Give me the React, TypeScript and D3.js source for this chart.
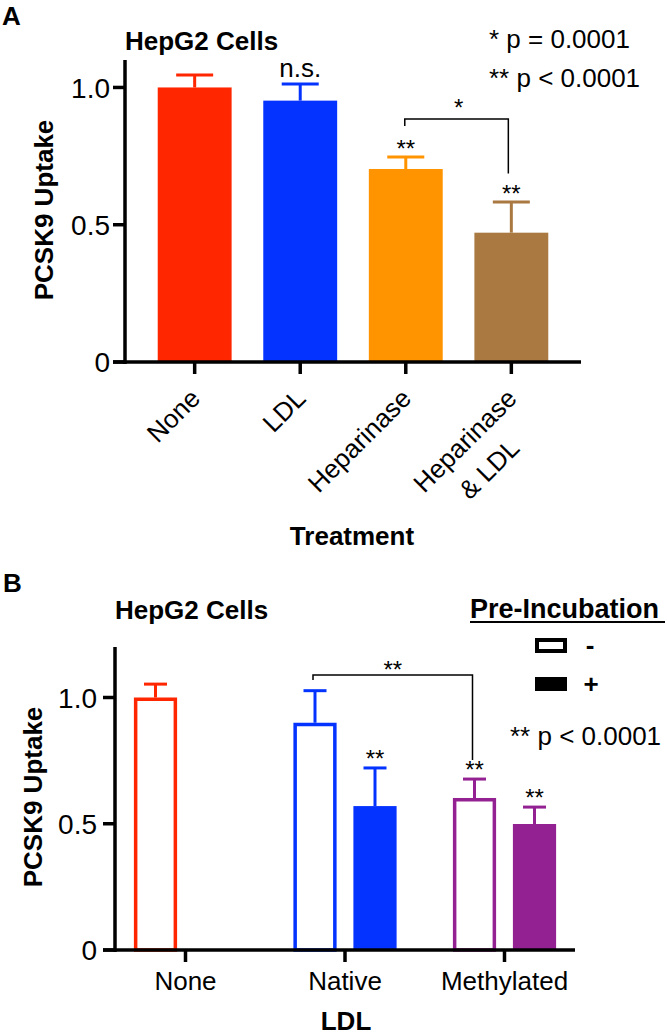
import React from "react";
import * as d3 from "d3";

const FONT = "'Liberation Sans', Arial, Helvetica, sans-serif";

// Panel A data
const treatments = ["None", "LDL", "Heparinase", "Heparinase & LDL"];
const treatmentLabels = [["None"], ["LDL"], ["Heparinase"], ["Heparinase", "& LDL"]];
const uptakeA = [1.0, 0.952, 0.703, 0.471];
const errA = [0.045, 0.061, 0.044, 0.112];
const colorsA = ["#FF2600", "#0433FF", "#FF9300", "#AA7942"];
const sigA = ["", "n.s.", "**", "**"];
const ticksA = [0, 0.5, 1.0];
const tickLabelsA = ["0", "0.5", "1.0"];

// Panel B data
const ldlTypes = ["None", "Native", "Methylated"];
const preIncubation = ["-", "+"];
const uptakeMinus = [1.0, 0.9, 0.602];
const errMinus = [0.053, 0.127, 0.075];
const uptakePlus = [null, 0.57, 0.499];
const errPlus = [null, 0.151, 0.067];
const colorsB = ["#FF2600", "#0433FF", "#942192"];
const sigMinus = ["", "", "**"];
const sigPlus = ["", "**", "**"];
const ticksB = [0, 0.5, 1.0];
const tickLabelsB = ["0", "0.5", "1.0"];

function measure(text: string, font: string): number {
  const c = document.createElement("canvas");
  const ctx = c.getContext("2d");
  if (!ctx) return text.length * 13;
  ctx.font = font;
  return ctx.measureText(text).width;
}

export default function App() {
  // ---------- Panel A ----------
  const yA = d3.scaleLinear().domain([0, 1.1]).range([362, 60]);
  const xA = d3
    .scaleBand<string>()
    .domain(treatments)
    .range([125, 581])
    .paddingInner(0.3)
    .paddingOuter(0.31);
  const bwA = xA.bandwidth();
  const cxA = (i: number) => (xA(treatments[i]) as number) + bwA / 2;

  // ---------- Panel B ----------
  const yB = d3.scaleLinear().domain([0, 1.2]).range([950, 647]);
  const xB = d3.scalePoint<string>().domain(ldlTypes).range([115, 575]).padding(0.442);
  const sub = d3
    .scaleBand<string>()
    .domain(preIncubation)
    .range([-60, 60])
    .paddingInner(0.28)
    .paddingOuter(0.14);
  const bwB = sub.bandwidth();
  const sw = 3.5;

  const labelFont = `26px ${FONT}`;

  const capA = 18.5;
  const capB = 11.5;

  return (
    <svg
      width={667}
      height={1035}
      style={{ position: "absolute", left: 0, top: 0, background: "#fff" }}
      fontFamily={FONT}
    >
      <rect x={0} y={0} width={667} height={1035} fill="#fff" />

      {/* ================= PANEL A ================= */}
      <text x={2} y={25} fontSize={26} fontWeight="bold">A</text>
      <text x={125} y={50} fontSize={26} fontWeight="bold">HepG2 Cells</text>
      <text x={489} y={48} fontSize={26}>* p = 0.0001</text>
      <text x={489} y={87} fontSize={26}>** p &lt; 0.0001</text>

      {/* bars */}
      {treatments.map((t, i) => (
        <rect
          key={t}
          x={xA(t)}
          y={yA(uptakeA[i])}
          width={bwA}
          height={yA(0) - yA(uptakeA[i])}
          fill={colorsA[i]}
        />
      ))}
      {/* error bars */}
      {treatments.map((t, i) => {
        const cx = cxA(i);
        const top = yA(uptakeA[i] + errA[i]);
        return (
          <g key={t} stroke={colorsA[i]} strokeWidth={3}>
            <line x1={cx} x2={cx} y1={yA(uptakeA[i])} y2={top} />
            <line x1={cx - capA} x2={cx + capA} y1={top} y2={top} />
          </g>
        );
      })}
      {/* significance labels */}
      {treatments.map((t, i) => {
        const top = yA(uptakeA[i] + errA[i]);
        if (!sigA[i]) return null;
        if (sigA[i] === "n.s.")
          return (
            <text key={t} x={cxA(i)} y={top - 7} fontSize={26} textAnchor="middle">
              n.s.
            </text>
          );
        return (
          <text key={t} x={cxA(i)} y={top + 0} fontSize={24} textAnchor="middle">
            {sigA[i]}
          </text>
        );
      })}
      {/* bracket */}
      <path
        d={`M${cxA(2) - 1},${yA(0.86)} V${yA(0.885)} H${cxA(3) - 3} V${yA(0.687)}`}
        fill="none"
        stroke="#000"
        strokeWidth={1.5}
      />
      <text x={(cxA(2) + cxA(3)) / 2} y={116} fontSize={24} textAnchor="middle">*</text>

      {/* axes */}
      <line x1={125} x2={125} y1={yA(1.1)} y2={yA(0) + 2} stroke="#000" strokeWidth={3.5} />
      <line x1={113} x2={581} y1={yA(0)} y2={yA(0)} stroke="#000" strokeWidth={3.5} />
      {ticksA.map((v, i) => (
        <g key={v}>
          <line x1={113} x2={125} y1={yA(v)} y2={yA(v)} stroke="#000" strokeWidth={3.5} />
          <text x={110} y={yA(v)} dy="0.36em" fontSize={28} textAnchor="end">
            {tickLabelsA[i]}
          </text>
        </g>
      ))}
      {treatments.map((t, i) => (
        <line
          key={t}
          x1={cxA(i)}
          x2={cxA(i)}
          y1={yA(0)}
          y2={yA(0) + 12}
          stroke="#000"
          strokeWidth={3.5}
        />
      ))}
      {treatmentLabels.map((lines, i) => {
        const w1 = measure(lines[0], labelFont);
        return (
          <g key={i} transform={`translate(${cxA(i) + 7},${400}) rotate(-45)`}>
            {lines.map((ln, j) =>
              j === 0 ? (
                <text key={j} x={0} y={0} fontSize={26} textAnchor="end">
                  {ln}
                </text>
              ) : (
                <text key={j} x={-w1 / 2 - 3} y={j * 37} fontSize={26} textAnchor="middle">
                  {ln}
                </text>
              )
            )}
          </g>
        );
      })}
      <text x={352} y={545} fontSize={26} fontWeight="bold" textAnchor="middle">
        Treatment
      </text>
      <text transform="translate(53,210) rotate(-90)" fontSize={26} fontWeight="bold" textAnchor="middle">
        PCSK9 Uptake
      </text>

      {/* ================= PANEL B ================= */}
      <text x={3} y={592} fontSize={26} fontWeight="bold">B</text>
      <text x={115} y={619} fontSize={26} fontWeight="bold">HepG2 Cells</text>
      <text x={470} y={618} fontSize={27} fontWeight="bold">Pre-Incubation</text>
      <line x1={470} x2={665} y1={622} y2={622} stroke="#000" strokeWidth={2} />
      <rect x={537} y={640} width={28} height={11} fill="#fff" stroke="#000" strokeWidth={4} />
      <rect x={535} y={677} width={32} height={14} fill="#000" />
      <text x={590} y={654} fontSize={26} fontWeight="bold" textAnchor="middle">-</text>
      <text x={591} y={693} fontSize={26} fontWeight="bold" textAnchor="middle">+</text>
      <text x={510} y={745} fontSize={26}>** p &lt; 0.0001</text>

      {/* bars */}
      {ldlTypes.map((g, i) => {
        const gx = xB(g) as number;
        const items = [
          { key: "-", v: uptakeMinus[i], e: errMinus[i], s: sigMinus[i], open: true },
          { key: "+", v: uptakePlus[i], e: errPlus[i], s: sigPlus[i], open: false },
        ];
        return (
          <g key={g}>
            {items.map((it) => {
              if (it.v == null) return null;
              const x0 = gx + (sub(it.key) as number);
              const cx = x0 + bwB / 2;
              const top = yB(it.v);
              const capY = yB(it.v + (it.e as number));
              return (
                <g key={it.key}>
                  {it.open ? (
                    <rect
                      x={x0 + sw / 2}
                      y={top + sw / 2}
                      width={bwB - sw}
                      height={yB(0) - top - sw / 2}
                      fill="#fff"
                      stroke={colorsB[i]}
                      strokeWidth={sw}
                    />
                  ) : (
                    <rect x={x0} y={top} width={bwB} height={yB(0) - top} fill={colorsB[i]} />
                  )}
                  <g stroke={colorsB[i]} strokeWidth={3}>
                    <line x1={cx} x2={cx} y1={top} y2={capY} />
                    <line x1={cx - capB} x2={cx + capB} y1={capY} y2={capY} />
                  </g>
                  {it.s ? (
                    <text x={cx} y={capY - 1} fontSize={24} textAnchor="middle">
                      {it.s}
                    </text>
                  ) : null}
                </g>
              );
            })}
          </g>
        );
      })}
      {/* bracket B */}
      {(() => {
        const xl = (xB("Native") as number) + (sub("-") as number) + bwB / 2 - 2;
        const xr = (xB("Methylated") as number) + (sub("-") as number) + bwB / 2 - 2;
        return (
          <g>
            <path
              d={`M${xl},${680} V${675} H${xr} V${760}`}
              fill="none"
              stroke="#000"
              strokeWidth={1.5}
            />
            <text x={(xl + xr) / 2} y={678} fontSize={24} textAnchor="middle">**</text>
          </g>
        );
      })()}

      {/* axes B */}
      <line x1={115} x2={115} y1={yB(1.2)} y2={yB(0) + 2} stroke="#000" strokeWidth={3.5} />
      <line x1={103} x2={575} y1={yB(0)} y2={yB(0)} stroke="#000" strokeWidth={3.5} />
      {ticksB.map((v, i) => (
        <g key={v}>
          <line x1={103} x2={115} y1={yB(v)} y2={yB(v)} stroke="#000" strokeWidth={3.5} />
          <text x={97} y={yB(v)} dy="0.36em" fontSize={28} textAnchor="end">
            {tickLabelsB[i]}
          </text>
        </g>
      ))}
      {ldlTypes.map((g) => (
        <g key={g}>
          <line
            x1={xB(g)}
            x2={xB(g)}
            y1={yB(0)}
            y2={yB(0) + 12}
            stroke="#000"
            strokeWidth={3.5}
          />
          <text x={xB(g)} y={990} fontSize={26} textAnchor="middle">
            {g}
          </text>
        </g>
      ))}
      <text x={346} y={1030} fontSize={26} fontWeight="bold" textAnchor="middle">
        LDL
      </text>
      <text transform="translate(42,797) rotate(-90)" fontSize={26} fontWeight="bold" textAnchor="middle">
        PCSK9 Uptake
      </text>
    </svg>
  );
}
